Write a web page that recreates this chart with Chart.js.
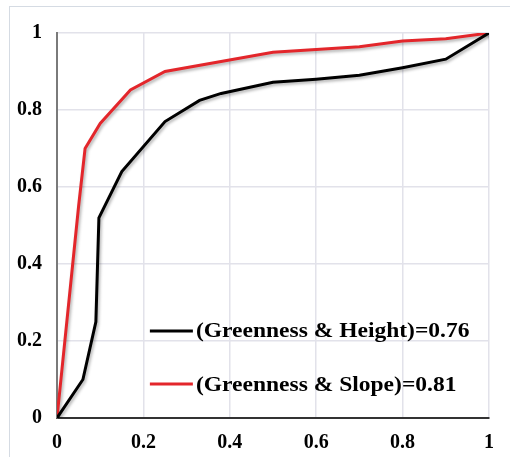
<!DOCTYPE html>
<html>
<head>
<meta charset="utf-8">
<script src="https://cdn.jsdelivr.net/npm/chart.js@4.4.0/dist/chart.umd.min.js"></script>
<style>
  html, body { margin: 0; padding: 0; background: #fff; }
  #wrap { position: relative; width: 510px; height: 457px; overflow: hidden; }
  #frame { position: absolute; left: 9px; top: 6px; width: 520px; height: 470px;
           border-left: 1px solid #d5dbe3; border-top: 1px solid #d5dbe3; }
  canvas { position: absolute; left: 0; top: 0; }
</style>
</head>
<body>
<div id="wrap">
  <div id="frame"></div>
  <canvas id="c" width="510" height="457"></canvas>
</div>
<script>
// Data
const heightFPR = [0, 0.06, 0.09, 0.097, 0.15, 0.25, 0.33, 0.38, 0.5, 0.6, 0.7, 0.8, 0.9, 1];
const heightTPR = [0, 0.10, 0.25, 0.52, 0.64, 0.77, 0.825, 0.843, 0.872, 0.88, 0.89, 0.91, 0.932, 1];
const slopeFPR  = [0, 0.05, 0.065, 0.10, 0.17, 0.25, 0.5, 0.7, 0.8, 0.9, 1];
const slopeTPR  = [0, 0.55, 0.70, 0.765, 0.852, 0.90, 0.95, 0.964, 0.979, 0.985, 1];
const seriesLabels = ['(Greenness & Height)=0.76', '(Greenness & Slope)=0.81'];
const tickValues = [0, 0.2, 0.4, 0.6, 0.8, 1];
const tickLabels = ['0', '0.2', '0.4', '0.6', '0.8', '1'];

const toPts = (xs, ys) => xs.map((x, i) => ({ x: x, y: ys[i] }));
const FONT = "'Liberation Serif', 'Times New Roman', serif";
const BLACK = '#000000';
const RED = '#e3262b';

const shadowPlugin = {
  id: 'lineShadow',
  beforeDatasetDraw(chart) {
    const ctx = chart.ctx;
    ctx.save();
    ctx.shadowColor = 'rgba(0,0,0,0.3)';
    ctx.shadowBlur = 3;
    ctx.shadowOffsetX = 1.5;
    ctx.shadowOffsetY = 2;
  },
  afterDatasetDraw(chart) {
    chart.ctx.restore();
  }
};

const insideLegend = {
  id: 'insideLegend',
  afterDraw(chart) {
    const ctx = chart.ctx;
    const xs = chart.scales.x, ys = chart.scales.y;
    const rows = [
      { label: seriesLabels[0], color: BLACK, yv: 0.226 },
      { label: seriesLabels[1], color: RED, yv: 0.088 }
    ];
    const x0 = xs.getPixelForValue(0.215);
    ctx.save();
    rows.forEach(r => {
      const y = ys.getPixelForValue(r.yv);
      ctx.strokeStyle = r.color;
      ctx.lineWidth = 3;
      ctx.beginPath();
      ctx.moveTo(x0, y);
      ctx.lineTo(x0 + 43, y);
      ctx.stroke();
      ctx.save();
      ctx.translate(x0 + 46, y + 1);
      ctx.scale(1.12, 1);
      ctx.fillStyle = '#000';
      ctx.font = 'bold 21px ' + FONT;
      ctx.textBaseline = 'middle';
      ctx.textAlign = 'left';
      ctx.fillText(r.label, 0, 0);
      ctx.restore();
    });
    ctx.restore();
  }
};

const tickFont = { family: FONT, size: 20, weight: 'bold' };

new Chart(document.getElementById('c'), {
  type: 'line',
  data: {
    datasets: [
      { label: seriesLabels[0], data: toPts(heightFPR, heightTPR), borderColor: BLACK,
        borderWidth: 3, pointRadius: 0, tension: 0, fill: false },
      { label: seriesLabels[1], data: toPts(slopeFPR, slopeTPR), borderColor: RED,
        borderWidth: 3, pointRadius: 0, tension: 0, fill: false }
    ]
  },
  options: {
    responsive: false,
    animation: false,
    layout: { padding: { left: 0, top: 33, right: 21, bottom: 0 } },
    plugins: { legend: { display: false }, tooltip: { enabled: false } },
    scales: {
      x: {
        type: 'linear', min: 0, max: 1,
        afterBuildTicks: s => { s.ticks = tickValues.map(v => ({ value: v })); },
        afterFit: s => { s.height = 39; },
        grid: { color: '#e2e2ea', lineWidth: 1.5, drawTicks: false },
        border: { color: '#333333', width: 2 },
        ticks: { color: '#000', padding: 13, font: tickFont,
                 callback: (v, i) => tickLabels[i] }
      },
      y: {
        type: 'linear', min: 0, max: 1,
        afterBuildTicks: s => { s.ticks = tickValues.map(v => ({ value: v })); },
        afterFit: s => { s.width = 57; },
        grid: { color: '#e2e2ea', lineWidth: 1.5, drawTicks: false },
        border: { color: '#7a7a7a', width: 2 },
        ticks: { color: '#000', padding: 15, font: tickFont,
                 callback: (v, i) => tickLabels[i] }
      }
    }
  },
  plugins: [shadowPlugin, insideLegend]
});
</script>
</body>
</html>
